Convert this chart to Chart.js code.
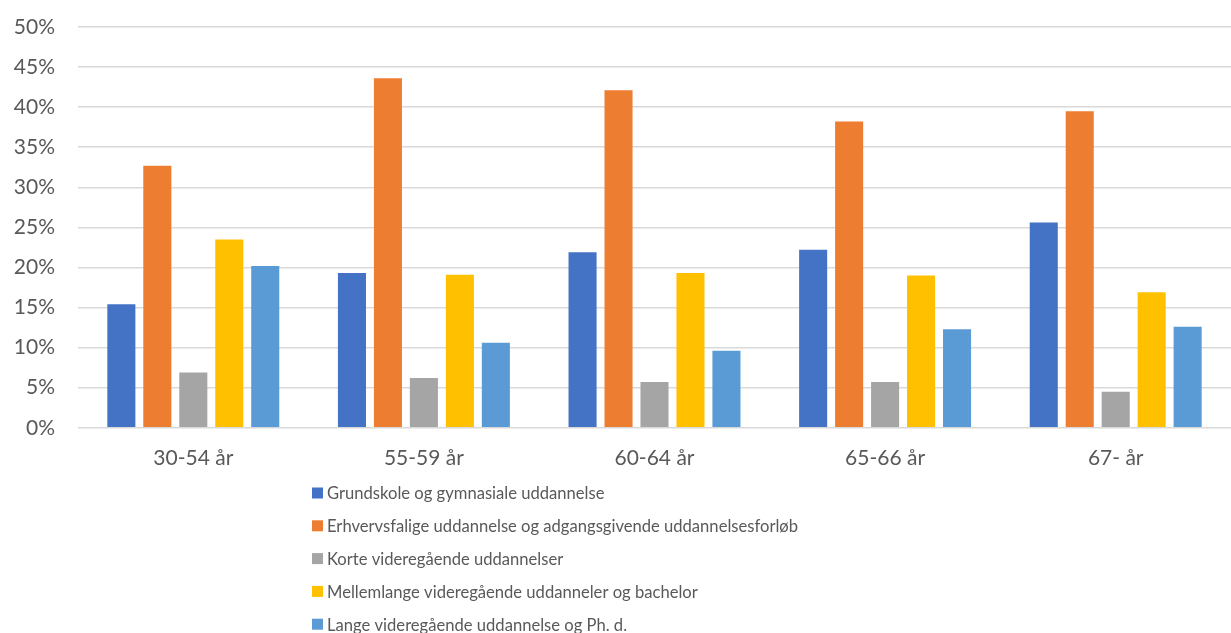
<!DOCTYPE html>
<html>
<head>
<meta charset="utf-8">
<script src="https://cdn.jsdelivr.net/npm/chart.js@4.4.1/dist/chart.umd.min.js"></script>
<style>
  html, body { margin: 0; padding: 0; background: #fff; }
  #wrap { width: 1231px; height: 633px; position: relative; }
</style>
</head>
<body>
<div id="wrap"><canvas id="chart"></canvas></div>
<script>
// Data
const ageGroups = ['30-54 år', '55-59 år', '60-64 år', '65-66 år', '67- år'];
const grundskole = [15.4, 19.3, 21.9, 22.2, 25.6];
const erhvervsfaglige = [32.7, 43.6, 42.1, 38.2, 39.5];
const korte = [6.9, 6.2, 5.7, 5.7, 4.5];
const mellemlange = [23.5, 19.1, 19.3, 19.0, 16.9];
const lange = [20.2, 10.6, 9.6, 12.3, 12.6];
const yTicks = [0, 5, 10, 15, 20, 25, 30, 35, 40, 45, 50];

const seriesNames = [
  'Grundskole og gymnasiale uddannelse',
  'Erhvervsfalige uddannelse og adgangsgivende uddannelsesforløb',
  'Korte videregående uddannelser',
  'Mellemlange videregående uddanneler og bachelor',
  'Lange videregående uddannelse og Ph. d.'
];
const seriesColors = ['#4472C4', '#ED7D31', '#A5A5A5', '#FFC000', '#5B9BD5'];
const seriesData = [grundskole, erhvervsfaglige, korte, mellemlange, lange];

const FONT = 'Lato, "Liberation Sans", sans-serif';

// legend drawn as a vertical list under the axis
const listLegend = {
  id: 'listLegend',
  afterDraw(chart) {
    const ctx = chart.ctx;
    ctx.save();
    ctx.font = '16.6px ' + FONT;
    ctx.textBaseline = 'middle';
    chart.data.datasets.forEach((ds, i) => {
      const y = 493 + i * 32.8;
      ctx.fillStyle = ds.backgroundColor;
      ctx.fillRect(312, y - 5.5, 11, 11);
      ctx.fillStyle = '#595959';
      ctx.fillText(ds.label, 327, y + 1);
    });
    ctx.restore();
  }
};

new Chart(document.getElementById('chart'), {
  type: 'bar',
  data: {
    labels: ageGroups,
    datasets: seriesNames.map((name, i) => ({
      label: name,
      data: seriesData[i],
      backgroundColor: seriesColors[i],
      categoryPercentage: 0.78,
      barPercentage: 0.78
    }))
  },
  options: {
    responsive: true,
    maintainAspectRatio: false,
    animation: false,
    layout: { padding: { top: 27, right: 0, bottom: 152, left: 0 } },
    plugins: {
      legend: { display: false },
      tooltip: { enabled: false }
    },
    scales: {
      x: {
        grid: { display: false },
        border: { display: false },
        ticks: { color: '#595959', font: { family: FONT, size: 21 }, padding: 10 }
      },
      y: {
        min: 0,
        max: 50,
        afterBuildTicks(axis) { axis.ticks = yTicks.map(v => ({ value: v })); },
        afterFit(axis) {
          axis.width = 78;
          axis.paddingTop = 0;
          axis.paddingBottom = 0;
        },
        grid: { color: '#D9D9D9', lineWidth: 1.5, drawTicks: false },
        border: { display: false },
        ticks: {
          color: '#595959',
          font: { family: FONT, size: 21 },
          padding: 23,
          callback: v => v + '%'
        }
      }
    }
  },
  plugins: [listLegend]
});
</script>
</body>
</html>
